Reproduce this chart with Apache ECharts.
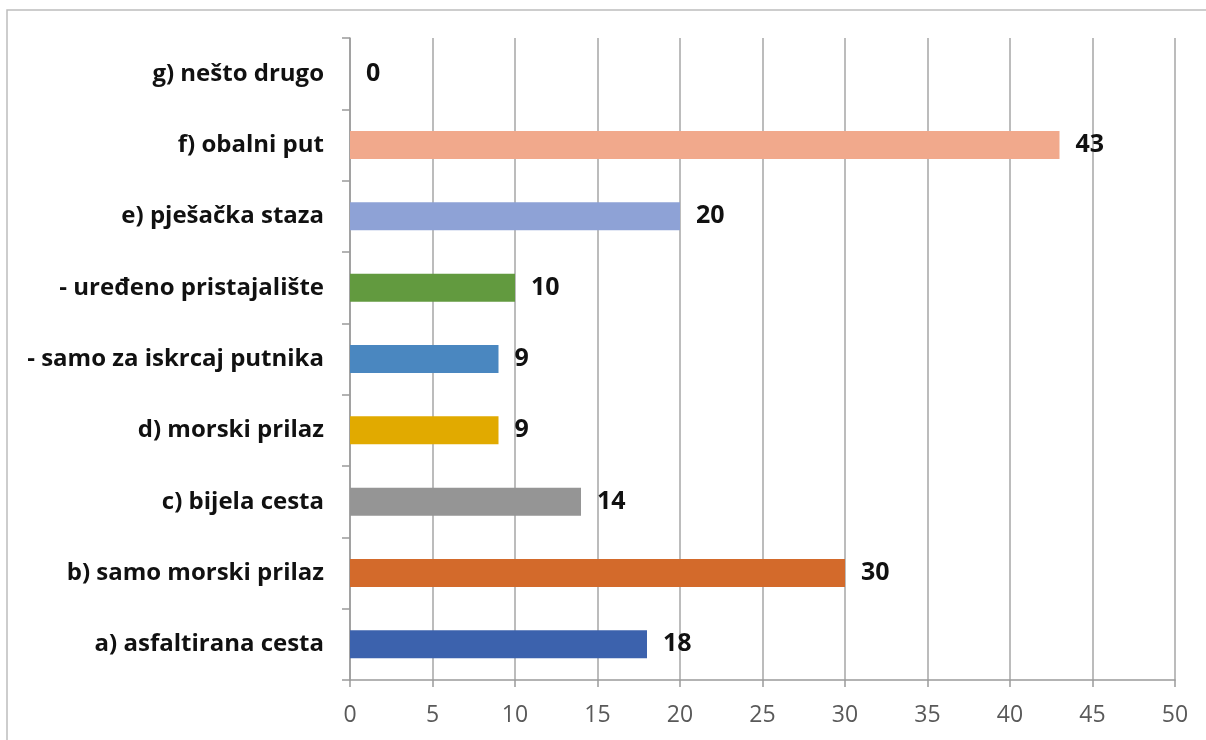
<!DOCTYPE html>
<html lang="hr">
<head>
    <meta charset="UTF-8">
    <script src="https://cdn.jsdelivr.net/npm/echarts@6/dist/echarts.min.js"></script>
    <title>Prilaz</title>
    <style>
        html, body { margin: 0; padding: 0; background: #fff; }
    </style>
</head>
<body>
    <div id="bar-chart" style="width: 1206px;height:740px;"></div>
</body>
<script type="text/javascript">
    // kategorije odozdo prema gore
    var categories = [
        'a) asfaltirana cesta',
        'b) samo morski prilaz',
        'c) bijela cesta',
        'd) morski prilaz',
        '- samo za iskrcaj putnika',
        '- uređeno pristajalište',
        'e) pješačka staza',
        'f) obalni put',
        'g) nešto drugo'
    ];
    var counts = [18, 30, 14, 9, 9, 10, 20, 43, 0];
    var barColors = ['#3c62ad', '#d36a2b', '#959595', '#e1aa00', '#4a87c0', '#629a3f', '#8ea2d6', '#f1a98c', '#cccccc'];

    var chart = echarts.init(document.getElementById('bar-chart'));
    chart.setOption({
        animation: false,
        textStyle: { fontFamily: 'Open Sans' },
        graphic: [{
            type: 'rect',
            shape: { x: 7, y: 10, width: 1220, height: 760 },
            style: { fill: 'none', stroke: '#bdbdbd', lineWidth: 1.5 }
        }],
        grid: { left: 350, right: 31, top: 38, bottom: 60, containLabel: false },
        xAxis: {
            type: 'value',
            min: 0,
            max: 50,
            interval: 5,
            axisLine: { show: true, lineStyle: { color: '#9a9a9a', width: 1.5 } },
            axisTick: { show: true, length: 7, lineStyle: { color: '#9a9a9a', width: 1.5 } },
            splitLine: { show: true, lineStyle: { color: '#a6a6a6', width: 1.5 } },
            axisLabel: { color: '#595959', fontSize: 23, margin: 24 }
        },
        yAxis: {
            type: 'category',
            data: categories,
            axisLine: { show: true, lineStyle: { color: '#9a9a9a', width: 1.5 } },
            axisTick: { show: true, length: 8, lineStyle: { color: '#9a9a9a', width: 1.5 } },
            axisLabel: { color: '#111', fontSize: 24, fontWeight: 'bold', margin: 26 }
        },
        series: [{
            type: 'bar',
            data: counts.map(function (v, i) {
                return { value: v, itemStyle: { color: barColors[i] } };
            }),
            barWidth: 28,
            label: {
                show: true,
                position: 'right',
                distance: 16,
                color: '#111',
                fontSize: 25,
                fontWeight: 'bold'
            }
        }]
    });
</script>
</html>
